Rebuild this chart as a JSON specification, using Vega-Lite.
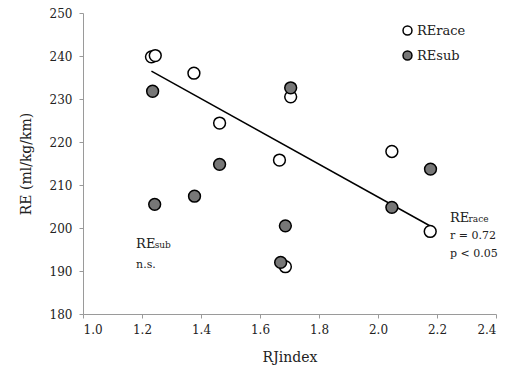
{
  "$schema": "https://vega.github.io/schema/vega-lite/v6.json",
  "width": 413,
  "height": 301,
  "autosize": {"type": "none"},
  "padding": {"left": 83, "top": 13, "right": 11, "bottom": 57},
  "config": {
    "font": "DejaVu Serif",
    "view": {"stroke": null},
    "axis": {"grid": false, "domainColor": "#9a9a9a", "tickColor": "#9a9a9a", "tickSize": 4, "labelFont": "DejaVu Serif", "titleFont": "DejaVu Serif", "labelFontSize": 12, "titleFontSize": 14, "labelColor": "#222", "titleColor": "#222", "titleFontWeight": "normal"}
  },
  "datasets": {
    "pts": [
      {"series": "RErace", "RJindex": 1.232, "RE": 239.8},
      {"series": "RErace", "RJindex": 1.245, "RE": 240.1},
      {"series": "RErace", "RJindex": 1.376, "RE": 236.0},
      {"series": "RErace", "RJindex": 1.463, "RE": 224.4},
      {"series": "RErace", "RJindex": 1.666, "RE": 215.8},
      {"series": "RErace", "RJindex": 1.704, "RE": 230.5},
      {"series": "RErace", "RJindex": 1.686, "RE": 191.0},
      {"series": "RErace", "RJindex": 2.047, "RE": 217.8},
      {"series": "RErace", "RJindex": 2.177, "RE": 199.2},
      {"series": "REsub", "RJindex": 1.236, "RE": 231.8},
      {"series": "REsub", "RJindex": 1.243, "RE": 205.5},
      {"series": "REsub", "RJindex": 1.378, "RE": 207.4},
      {"series": "REsub", "RJindex": 1.463, "RE": 214.8},
      {"series": "REsub", "RJindex": 1.704, "RE": 232.6},
      {"series": "REsub", "RJindex": 1.686, "RE": 200.5},
      {"series": "REsub", "RJindex": 1.670, "RE": 192.0},
      {"series": "REsub", "RJindex": 2.047, "RE": 204.8},
      {"series": "REsub", "RJindex": 2.178, "RE": 213.7}
    ],
    "big": [
      {"x": 1.18, "y": 195.4, "t": "RE"},
      {"x": 2.244, "y": 201.5, "t": "RE"}
    ],
    "small": [
      {"x": 1.243, "y": 195.4, "t": "sub"},
      {"x": 2.307, "y": 201.5, "t": "race"}
    ],
    "mid": [
      {"x": 1.18, "y": 190.8, "t": "n.s."},
      {"x": 2.244, "y": 197.4, "t": "r = 0.72"},
      {"x": 2.244, "y": 193.3, "t": "p < 0.05"}
    ]
  },
  "layer": [
    {
      "data": {"name": "pts"},
      "transform": [{"filter": "datum.series === 'RErace'"}, {"regression": "RE", "on": "RJindex"}],
      "mark": {"type": "line", "color": "#000", "strokeWidth": 1.5},
      "encoding": {
        "x": {"field": "RJindex", "type": "quantitative"},
        "y": {"field": "RE", "type": "quantitative"}
      }
    },
    {
      "data": {"name": "pts"},
      "mark": {"type": "point", "shape": "circle", "filled": true, "stroke": "#000", "strokeWidth": 1.5, "size": 140, "opacity": 1},
      "encoding": {
        "x": {"field": "RJindex", "type": "quantitative", "scale": {"domain": [1.0, 2.4], "nice": false, "zero": false}, "axis": {"values": [1.0, 1.2, 1.4, 1.6, 1.8, 2.0, 2.2, 2.4], "format": ".1f", "labelPadding": 6, "titlePadding": 15}, "title": "RJindex"},
        "y": {"field": "RE", "type": "quantitative", "scale": {"domain": [180, 250], "nice": false, "zero": false}, "axis": {"values": [180, 190, 200, 210, 220, 230, 240, 250], "labelPadding": 7, "titlePadding": 16}, "title": "RE (ml/kg/km)"},
        "fill": {"field": "series", "type": "nominal", "scale": {"domain": ["RErace", "REsub"], "range": ["#ffffff", "#777777"]},
          "legend": {"title": null, "orient": "none", "legendX": 318, "legendY": 11, "symbolType": "circle", "symbolSize": 80, "symbolStrokeColor": "#000", "symbolStrokeWidth": 1.5, "labelFont": "DejaVu Serif", "labelFontSize": 13, "labelColor": "#222", "rowPadding": 10, "labelOffset": 3}}
      }
    },
    {
      "data": {"name": "big"},
      "mark": {"type": "text", "align": "left", "baseline": "alphabetic", "fontSize": 13, "color": "#222", "font": "DejaVu Serif"},
      "encoding": {"x": {"field": "x", "type": "quantitative"}, "y": {"field": "y", "type": "quantitative"}, "text": {"field": "t"}}
    },
    {
      "data": {"name": "small"},
      "mark": {"type": "text", "align": "left", "baseline": "alphabetic", "fontSize": 9, "color": "#222", "font": "DejaVu Serif"},
      "encoding": {"x": {"field": "x", "type": "quantitative"}, "y": {"field": "y", "type": "quantitative"}, "text": {"field": "t"}}
    },
    {
      "data": {"name": "mid"},
      "mark": {"type": "text", "align": "left", "baseline": "alphabetic", "fontSize": 11, "color": "#222", "font": "DejaVu Serif"},
      "encoding": {"x": {"field": "x", "type": "quantitative"}, "y": {"field": "y", "type": "quantitative"}, "text": {"field": "t"}}
    }
  ]
}
